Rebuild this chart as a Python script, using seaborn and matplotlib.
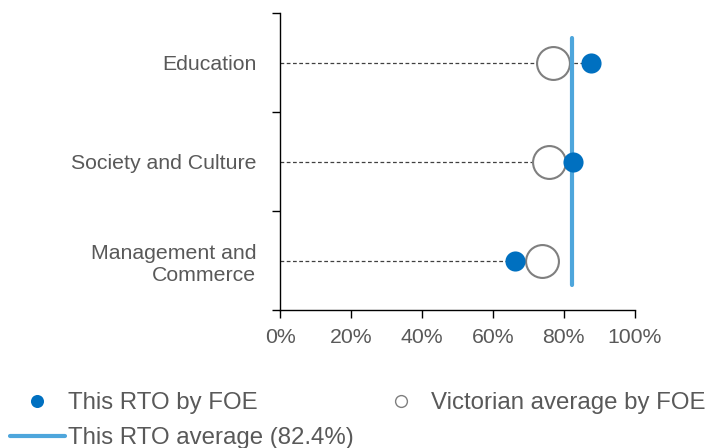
import numpy as np
import pandas as pd
import seaborn as sns
import matplotlib.pyplot as plt
from matplotlib.lines import Line2D
from matplotlib.ticker import PercentFormatter

# values (percent)
fields = ['Education', 'Society and Culture', 'Management and\nCommerce']
rto_by_foe = [87.8, 82.5, 66.4]
vic_by_foe = [77.0, 75.8, 73.9]
rto_average = 82.4
x_ticks = [0, 20, 40, 60, 80, 100]

sns.set_theme(style='white')
plt.rcParams['font.family'] = ['Liberation Sans', 'DejaVu Sans']

df = pd.DataFrame({'field': fields, 'rto': rto_by_foe, 'vic': vic_by_foe})
df['pos'] = np.arange(len(df))

BLUE = '#0070C0'
LIGHT_BLUE = '#4EA6DC'
GREY = '#7F7F7F'
TEXT = '#595959'
FS = 15.3
LEG_FS = 17.3

fig = plt.figure(figsize=(7.09, 4.48), dpi=100)
ax = fig.add_axes([0.395, 0.308, 0.5, 0.662])

# dashed guide from 0 to this RTO's value
ax.hlines(df['pos'], 0, df['rto'], colors='#404040', linestyles=(0, (3, 2)),
          linewidth=0.9, zorder=1)
sns.scatterplot(data=df, x='vic', y='pos', ax=ax, s=560, marker='o',
                color='white', edgecolor=GREY, linewidth=1.5, zorder=2)
ax.vlines(rto_average, -0.25, 2.25, colors=LIGHT_BLUE, linewidth=3,
          capstyle='round', zorder=3)
sns.scatterplot(data=df, x='rto', y='pos', ax=ax, s=210, color=BLUE,
                linewidth=0, zorder=4)

ax.set_xlim(0, 100)
ax.set_ylim(2.5, -0.5)
ax.set_xticks(x_ticks)
ax.xaxis.set_major_formatter(PercentFormatter(decimals=0))
ax.set_yticks(df['pos'], labels=df['field'])
ax.set_yticks(np.arange(len(df) + 1) - 0.5, minor=True)
for lbl in ax.get_yticklabels():
    lbl.set_linespacing(1.2)
ax.set_xlabel('')
ax.set_ylabel('')

for side in ['top', 'right']:
    ax.spines[side].set_visible(False)
for side in ['left', 'bottom']:
    ax.spines[side].set_color('black')
    ax.spines[side].set_linewidth(1)

ax.tick_params(axis='x', bottom=True, length=6, width=1, color='black', pad=7,
               labelsize=FS, labelcolor=TEXT, direction='out')
ax.tick_params(axis='y', which='major', left=True, length=0, pad=17,
               labelsize=FS, labelcolor=TEXT)
ax.tick_params(axis='y', which='minor', left=True, length=6, width=1,
               color='black', direction='out')

handles = [
    Line2D([], [], marker='o', linestyle='none', markersize=9.4,
           markerfacecolor=BLUE, markeredgewidth=0),
    Line2D([], [], color=LIGHT_BLUE, linewidth=3),
    Line2D([], [], marker='o', linestyle='none', markersize=8.5,
           markerfacecolor='white', markeredgecolor=GREY, markeredgewidth=1),
]
labels = ['This RTO by FOE', f'This RTO average ({rto_average}%)',
          'Victorian average by FOE']
fig.legend(handles, labels, ncol=2, loc='upper left',
           bbox_to_anchor=(0.014, 0.124), frameon=False, fontsize=LEG_FS,
           labelcolor=TEXT, handlelength=2.29, handletextpad=0.13,
           columnspacing=0.81, labelspacing=0.52, borderpad=0, borderaxespad=0)

fig.savefig('out.png', dpi=100)
